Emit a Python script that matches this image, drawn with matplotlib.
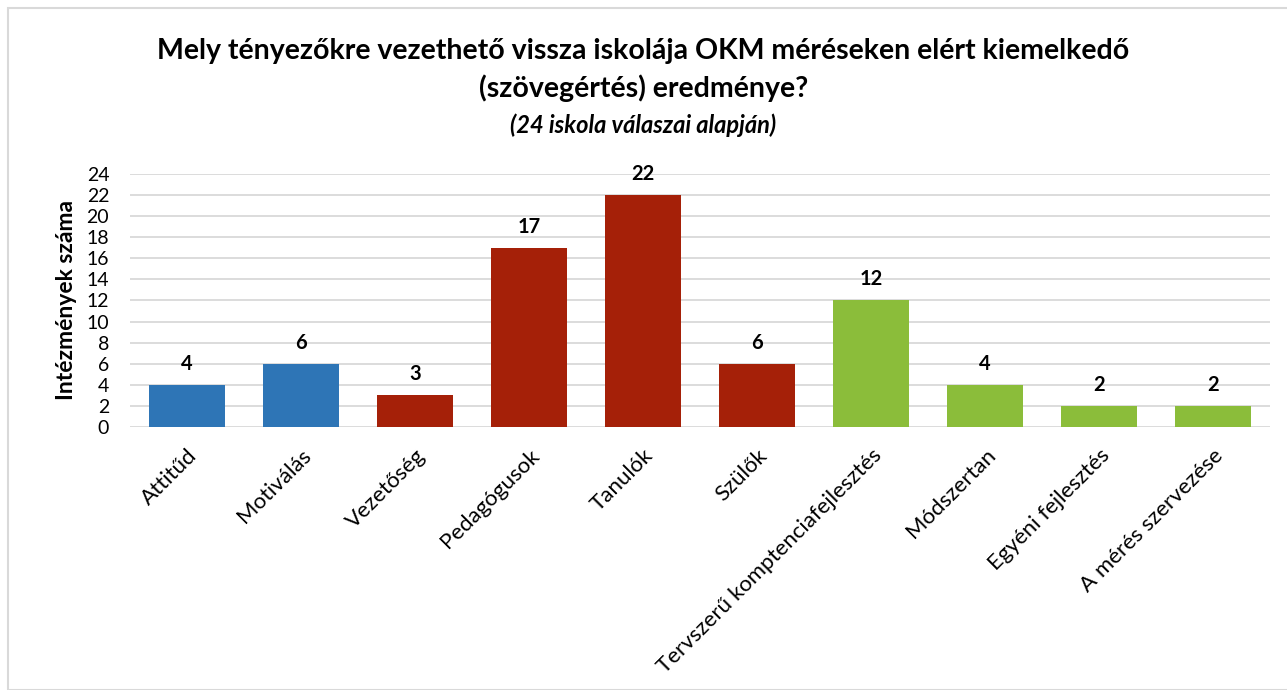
import matplotlib.pyplot as plt
from matplotlib.patches import Rectangle

# categories and counts (24 schools answered)
categories = ["Attitűd", "Motiválás", "Vezetőség", "Pedagógusok", "Tanulók",
              "Szülők", "Tervszerű komptenciafejlesztés", "Módszertan",
              "Egyéni fejlesztés", "A mérés szervezése"]
counts = [4, 6, 3, 17, 22, 6, 12, 4, 2, 2]
groups = ["motivacio", "motivacio", "szereplok", "szereplok", "szereplok",
          "szereplok", "modszer", "modszer", "modszer", "modszer"]

group_colors = {"motivacio": "#2E75B6", "szereplok": "#A52008", "modszer": "#8BBD3A"}
yticks = list(range(0, 25, 2))

plt.rcParams['font.family'] = ['Lato', 'DejaVu Sans']

fig = plt.figure(figsize=(12.87, 6.9), dpi=100)
ax = fig.add_axes([0.101, 0.381, 0.886, 0.367])

x = range(len(categories))
ax.bar(x, counts, width=0.667, color=[group_colors[g] for g in groups], zorder=3)

for xi, v in zip(x, counts):
    ax.annotate(str(v), (xi, v), xytext=(0, 8), textcoords="offset points",
                ha="center", va="bottom", fontsize=14.5, fontweight="bold")

ax.set_xlim(-0.5, len(categories) - 0.5)
ax.set_ylim(0, 24)
ax.set_yticks(yticks)
ax.set_yticklabels([str(t) for t in yticks], fontsize=14)
ax.set_xticks(list(x))
ax.set_xticklabels(categories, rotation=45, ha="right", rotation_mode="anchor",
                   fontsize=16)
ax.tick_params(axis="x", length=0, pad=13)
ax.tick_params(axis="y", length=0, pad=15)
ax.grid(axis="y", color="#D9D9D9", linewidth=1.3, zorder=0)
for s in ax.spines.values():
    s.set_visible(False)
ax.set_ylabel("Intézmények száma", fontsize=16.5, fontweight="bold", labelpad=7)

fig.text(0.5, 0.926, "Mely tényezőkre vezethető vissza iskolája OKM méréseken elért kiemelkedő",
         ha="center", va="center", fontsize=20.5, fontweight="bold")
fig.text(0.5, 0.872, "(szövegértés) eredménye?",
         ha="center", va="center", fontsize=20.5, fontweight="bold")
fig.text(0.5, 0.818, "(24 iskola válaszai alapján)",
         ha="center", va="center", fontsize=17, fontweight="bold", style="italic")

# thin frame round the chart area
fig.patches.append(Rectangle((8 / 1287, 0), 1, 1 - 8 / 690, transform=fig.transFigure,
                             fill=False, edgecolor="#D9D9D9", linewidth=1.5))

fig.savefig("out.png", dpi=100)
